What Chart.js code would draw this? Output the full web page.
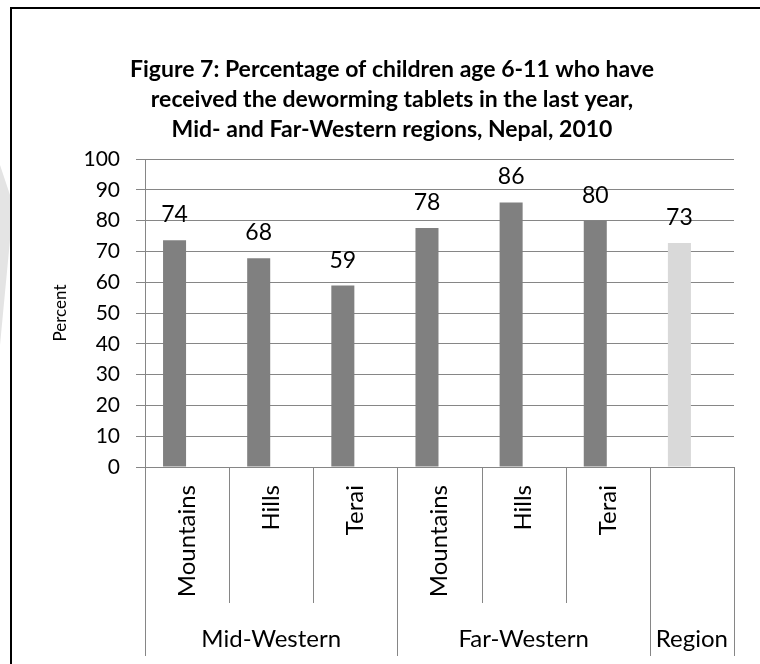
<!DOCTYPE html>
<html>
<head>
<meta charset="utf-8">
<script src="https://cdn.jsdelivr.net/npm/chart.js@4"></script>
<style>
  html, body { margin: 0; padding: 0; background: #fff; }
  canvas { display: block; }
</style>
</head>
<body>
<canvas id="myChart" width="760" height="664"></canvas>
<script>
// data
var categories = ['Mountains', 'Hills', 'Terai', 'Mountains', 'Hills', 'Terai', ''];
var groups = ['Mid-Western', 'Far-Western', 'Region'];
var groupSpans = [3, 3, 1];
var percent = [73.6, 67.8, 58.9, 77.6, 85.9, 80.0, 72.7];
var barColors = ['#808080', '#808080', '#808080', '#808080', '#808080', '#808080', '#d9d9d9'];
var yTicks = [0, 10, 20, 30, 40, 50, 60, 70, 80, 90, 100];
var titleLines = [
  'Figure 7: Percentage of children age 6-11 who have',
  'received the deworming tablets in the last year,',
  'Mid- and Far-Western regions, Nepal, 2010'
];

var FONT = 'Lato, "Open Sans", sans-serif';
var GRID = '#868686';

// border, watermark, value labels, separators and group row
var extras = {
  id: 'extras',
  beforeDraw: function(chart) {
    var ctx = chart.ctx;
    ctx.save();
    ctx.fillStyle = '#e4e4e4';
    ctx.beginPath();
    ctx.moveTo(0, 165);
    ctx.lineTo(10, 195);
    ctx.lineTo(10, 240);
    ctx.lineTo(0, 345);
    ctx.closePath();
    ctx.fill();
    ctx.restore();
  },
  afterDraw: function(chart) {
    var ctx = chart.ctx;
    var x = chart.scales.x;
    var area = chart.chartArea;
    ctx.save();

    // value labels
    var meta = chart.getDatasetMeta(0);
    ctx.fillStyle = '#000';
    ctx.font = '23px ' + FONT;
    ctx.textAlign = 'center';
    ctx.textBaseline = 'alphabetic';
    meta.data.forEach(function(bar, i) {
      ctx.fillText(String(Math.round(percent[i])), bar.x, bar.y - 18);
    });

    // category separators
    var w = x.getPixelForValue(1) - x.getPixelForValue(0);
    var start = x.getPixelForValue(0) - w / 2;
    var outer = [0];
    var acc = 0;
    groupSpans.forEach(function(s) { acc += s; outer.push(acc); });
    ctx.strokeStyle = GRID;
    ctx.lineWidth = 1;
    for (var k = 0; k <= categories.length; k++) {
      var px = Math.round(start + k * w) + 0.5;
      var end = outer.indexOf(k) >= 0 ? 656 : 603;
      ctx.beginPath();
      ctx.moveTo(px, area.bottom);
      ctx.lineTo(px, end);
      ctx.stroke();
    }

    // group labels
    ctx.fillStyle = '#000';
    ctx.font = '24px ' + FONT;
    ctx.textAlign = 'center';
    for (var g = 0; g < groups.length; g++) {
      var cx = start + (outer[g] + outer[g + 1]) / 2 * w;
      ctx.fillText(groups[g], cx, 647);
    }

    // outer frame
    ctx.strokeStyle = '#000';
    ctx.lineWidth = 2;
    ctx.beginPath();
    ctx.moveTo(11, 664);
    ctx.lineTo(11, 8);
    ctx.lineTo(760, 8);
    ctx.stroke();
    ctx.restore();
  }
};

var ctx = document.getElementById('myChart').getContext('2d');
var myChart = new Chart(ctx, {
  type: 'bar',
  data: {
    labels: categories,
    datasets: [{
      label: 'Percent',
      data: percent,
      backgroundColor: barColors,
      borderWidth: 0
    }, {
      label: '',
      data: categories.map(function() { return null; }),
      backgroundColor: 'rgba(0,0,0,0)'
    }]
  },
  options: {
    responsive: false,
    animation: false,
    devicePixelRatio: 1,
    categoryPercentage: 0.595,
    barPercentage: 0.92,
    layout: { padding: { left: 50, right: 26, top: 0, bottom: 0 } },
    plugins: {
      legend: { display: false },
      tooltip: { enabled: false },
      title: {
        display: true,
        text: titleLines,
        color: '#000',
        font: { family: FONT, size: 23, weight: 'bold', lineHeight: '30px' },
        padding: { top: 55, bottom: 14 }
      }
    },
    scales: {
      x: {
        grid: { display: true, drawOnChartArea: false, drawTicks: false, offset: true, color: GRID },
        border: { display: true, color: GRID, width: 1 },
        ticks: {
          color: '#000',
          font: { family: FONT, size: 24 },
          minRotation: 90,
          maxRotation: 90,
          padding: 18,
          autoSkip: false
        },
        afterFit: function(scale) { scale.height = 197; }
      },
      y: {
        min: 0,
        max: 100,
        afterBuildTicks: function(scale) {
          scale.ticks = yTicks.map(function(v) { return { value: v }; });
        },
        grid: { color: GRID, tickLength: 9, tickColor: GRID },
        border: { display: true, color: GRID, width: 1 },
        ticks: { color: '#000', font: { family: FONT, size: 21 }, padding: 16 },
        title: {
          display: true,
          text: 'Percent',
          color: '#000',
          font: { family: FONT, size: 17 },
          padding: { top: 0, bottom: 0 }
        },
        afterFit: function(scale) { scale.width = 95; }
      }
    }
  },
  plugins: [extras]
});
</script>
</body>
</html>
